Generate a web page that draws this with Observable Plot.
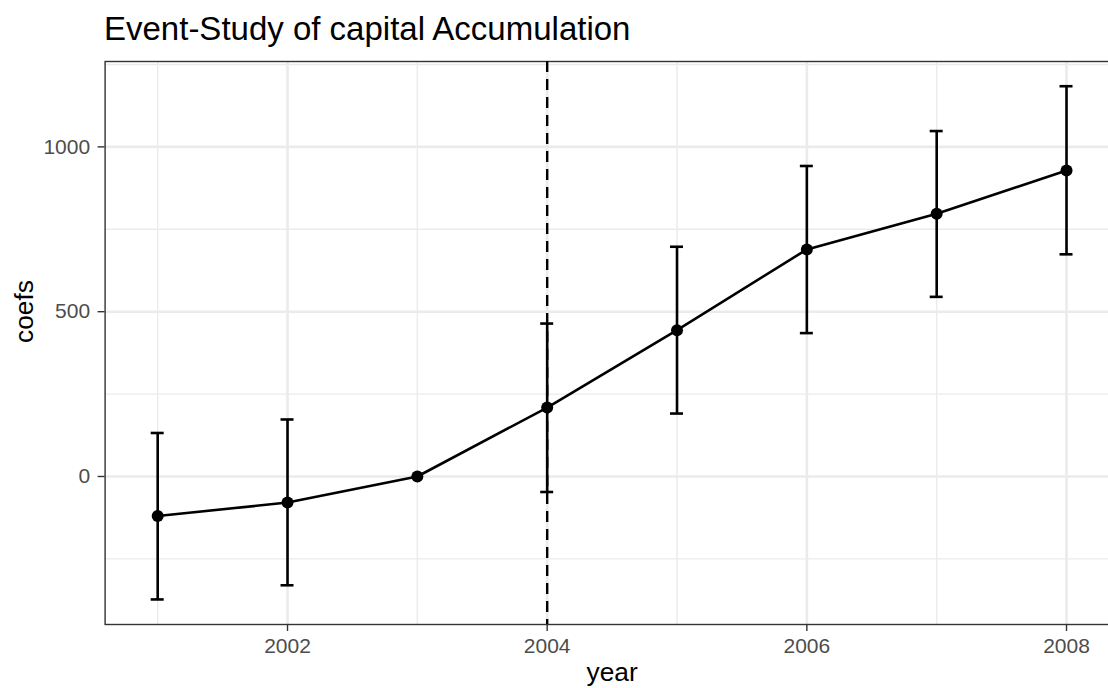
<!DOCTYPE html>
<html><head><meta charset="utf-8">
<script src="https://cdn.jsdelivr.net/npm/d3@7"></script>
<script src="https://cdn.jsdelivr.net/npm/@observablehq/plot@0.6"></script>
<style>
body{margin:0;background:#fff;overflow:hidden;font-family:"Liberation Sans",Arial,sans-serif;}
#wrap{width:1108px;height:688px;overflow:hidden;position:relative;background:#fff;}
#title{height:56px;box-sizing:border-box;padding-left:104px;padding-top:12px;font-size:33px;line-height:1;color:#000;white-space:nowrap;}
#chart svg{display:block;}
</style></head><body>
<div id="wrap"><div id="title">Event-Study of capital Accumulation</div><div id="chart"></div></div>
<script>
const years = [2001, 2002, 2003, 2004, 2005, 2006, 2007, 2008];
const coefs = [-120, -79, 0, 209, 444, 689, 797, 928];
const lower = [-373, -330, null, -47, 191, 435, 545, 674];
const upper = [132, 173, null, 464, 697, 942, 1048, 1184];
const xMajor = [2002, 2004, 2006, 2008];
const xMinor = [2001, 2003, 2005, 2007];
const yMajor = [0, 500, 1000];
const yMinor = [-250, 250, 750, 1250];
const eventYear = [2004];
const xLabel = "year";
const yLabel = "coefs";

const data = years.map((y, i) => ({year: y, coef: coefs[i], lo: lower[i], hi: upper[i]}));
const bars = data.filter(d => d.lo != null && d.hi != null);
const capHalf = 0.05;
const lw = 2.6;

const chart = Plot.plot({
  width: 1108, height: 632,
  marginTop: 5, marginBottom: 64, marginLeft: 104.6, marginRight: -10.6,
  style: {fontFamily: "Liberation Sans, Arial, sans-serif", background: "white", overflow: "visible"},
  x: {domain: [2000.595, 2008.405]},
  y: {domain: [-449, 1259]},
  marks: [
    Plot.ruleX(xMinor, {stroke: "#ebebeb", strokeWidth: 1.4}),
    Plot.ruleY(yMinor, {stroke: "#ebebeb", strokeWidth: 1.4}),
    Plot.ruleX(xMajor, {stroke: "#ebebeb", strokeWidth: 2.6}),
    Plot.ruleY(yMajor, {stroke: "#ebebeb", strokeWidth: 2.6}),
    Plot.frame({stroke: "#333333", strokeWidth: 1.4}),
    Plot.ruleX(eventYear, {stroke: "black", strokeWidth: 2.4, strokeDasharray: "11,7"}),
    Plot.ruleX(bars, {x: "year", y1: "lo", y2: "hi", stroke: "black", strokeWidth: lw}),
    Plot.ruleY(bars, {y: "lo", x1: d => d.year - capHalf, x2: d => d.year + capHalf, stroke: "black", strokeWidth: lw}),
    Plot.ruleY(bars, {y: "hi", x1: d => d.year - capHalf, x2: d => d.year + capHalf, stroke: "black", strokeWidth: lw}),
    Plot.line(data, {x: "year", y: "coef", stroke: "black", strokeWidth: lw}),
    Plot.dot(data, {x: "year", y: "coef", r: 6, fill: "black", stroke: "none"}),
    Plot.axisX(xMajor, {tickSize: 7, tickPadding: 7, fontSize: 21, stroke: "#333333", strokeWidth: 1.4, fill: "#4d4d4d", tickFormat: d3.format("d"), label: null}),
    Plot.axisY(yMajor, {tickSize: 7, tickPadding: 8, fontSize: 21, stroke: "#333333", strokeWidth: 1.4, fill: "#4d4d4d", tickFormat: d3.format("d"), label: null}),
    Plot.text([xLabel], {frameAnchor: "bottom", dy: 48.5, lineAnchor: "middle", fontSize: 26.3, fill: "black"}),
    Plot.text([yLabel], {frameAnchor: "left", rotate: -90, dx: -80.7, lineAnchor: "middle", fontSize: 26.3, fill: "black"})
  ]
});
document.getElementById("chart").appendChild(chart);
</script>
</body></html>
